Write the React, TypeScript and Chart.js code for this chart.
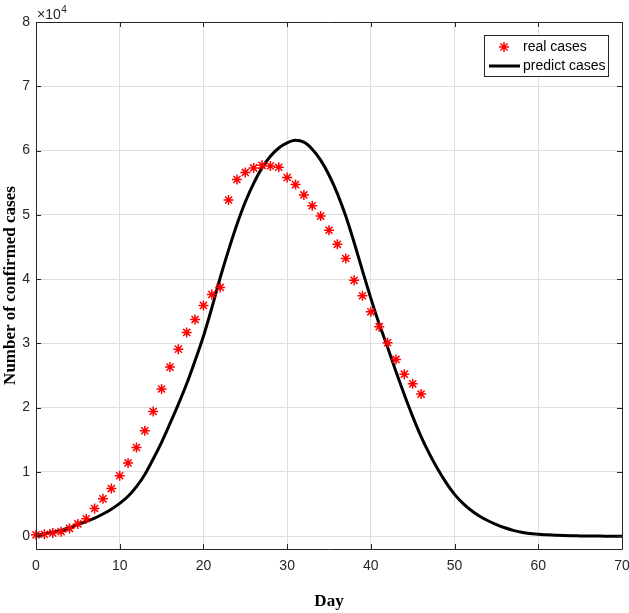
import React, { useEffect, useRef } from "react";
import { Chart, registerables } from "chart.js";

Chart.register(...registerables);

// ---- data ----
const realDays: number[] = Array.from({ length: 47 }, (_, i) => i);
const realCases: number[] = [
  200, 300, 500, 700, 1200, 1900, 2700, 4300, 5800, 7400,
  9400, 11400, 13800, 16400, 19400, 22900, 26300, 29100, 31700, 33700,
  35900, 37600, 38700, 52300, 55500, 56600, 57300, 57700, 57600, 57400,
  55800, 54700, 53100, 51400, 49800, 47600, 45400, 43200, 39800, 37400,
  34900, 32600, 30100, 27500, 25200, 23700, 22100,
];

const predictDays: number[] = Array.from({ length: 71 }, (_, i) => i);
const predictCases: number[] = [
  150, 350, 600, 900, 1300, 1800, 2300, 2800, 3450, 4200,
  5100, 6200, 7700, 9600, 12000, 14600, 17500, 20500, 23700, 27300,
  31100, 35500, 40200, 44500, 48500, 52000, 54900, 57300, 59100, 60400,
  61200, 61600, 61300, 60200, 58500, 56200, 53300, 49800, 45700, 41300,
  37000, 33000, 29400, 25600, 22000, 18600, 15500, 12800, 10400, 8300,
  6500, 5100, 4000, 3100, 2400, 1800, 1300, 900, 600, 400,
  300, 200, 150, 100, 60, 40, 20, 10, 0, 0, 0,
];

const xTicks: number[] = [0, 10, 20, 30, 40, 50, 60, 70];
const yTicks: number[] = [0, 10000, 20000, 30000, 40000, 50000, 60000, 70000, 80000];
const yTickLabels: string[] = ["0", "1", "2", "3", "4", "5", "6", "7", "8"];

const legendLabels: string[] = ["real cases", "predict cases"];

const AXIS = "#262626";
const GRID = "#dedede";
const SANS = "'Liberation Sans', Arial, sans-serif";
const SERIF = "'Liberation Serif', 'Times New Roman', serif";

const framePlugin = {
  id: "matlabFrame",
  afterDatasetsDraw(chart: any) {
    const { ctx, chartArea } = chart;
    const { left, right, top, bottom } = chartArea;
    const xs = chart.scales.x;
    const ys = chart.scales.y;
    ctx.save();
    ctx.strokeStyle = AXIS;
    ctx.lineWidth = 1;
    ctx.beginPath();
    ctx.rect(Math.round(left) + 0.5, Math.round(top) + 0.5, Math.round(right - left), Math.round(bottom - top));
    ctx.stroke();
    const tl = 5;
    ctx.beginPath();
    xTicks.forEach((v) => {
      const px = Math.round(xs.getPixelForValue(v)) + 0.5;
      ctx.moveTo(px, bottom);
      ctx.lineTo(px, bottom - tl);
      ctx.moveTo(px, top);
      ctx.lineTo(px, top + tl);
    });
    yTicks.forEach((v) => {
      const py = Math.round(ys.getPixelForValue(v)) + 0.5;
      ctx.moveTo(left, py);
      ctx.lineTo(left + tl, py);
      ctx.moveTo(right, py);
      ctx.lineTo(right - tl, py);
    });
    ctx.stroke();
    // exponent label
    ctx.fillStyle = AXIS;
    ctx.textBaseline = "alphabetic";
    ctx.textAlign = "left";
    ctx.font = `14px ${SANS}`;
    ctx.fillText("\u00d710", left + 1, top - 3);
    const w = ctx.measureText("\u00d710").width;
    ctx.font = `10px ${SANS}`;
    ctx.fillText("4", left + 1 + w + 0.5, top - 9.5);
    ctx.restore();
  },
  afterDraw(chart: any) {
    const { ctx } = chart;
    ctx.save();
    const bx = 484.5, by = 35.5, bw = 124, bh = 41;
    ctx.fillStyle = "#ffffff";
    ctx.fillRect(bx, by, bw, bh);
    ctx.strokeStyle = AXIS;
    ctx.lineWidth = 1;
    ctx.strokeRect(bx, by, bw, bh);
    // star marker
    const cx = 504, cy = 47, r = 5;
    ctx.strokeStyle = "#ff0000";
    ctx.lineWidth = 1.5;
    ctx.beginPath();
    for (let k = 0; k < 4; k++) {
      const a = (k * Math.PI) / 4;
      ctx.moveTo(cx - r * Math.cos(a), cy - r * Math.sin(a));
      ctx.lineTo(cx + r * Math.cos(a), cy + r * Math.sin(a));
    }
    ctx.stroke();
    // line sample
    ctx.strokeStyle = "#000000";
    ctx.lineWidth = 3;
    ctx.beginPath();
    ctx.moveTo(489, 66);
    ctx.lineTo(520, 66);
    ctx.stroke();
    ctx.fillStyle = "#000000";
    ctx.font = `14px ${SANS}`;
    ctx.textBaseline = "middle";
    ctx.textAlign = "left";
    ctx.fillText(legendLabels[0], 523, 47);
    ctx.fillText(legendLabels[1], 523, 66);
    ctx.restore();
  },
};

export default function App() {
  const ref = useRef<HTMLCanvasElement>(null);
  useEffect(() => {
    const chart = new Chart(ref.current as HTMLCanvasElement, {
      type: "line",
      data: {
        datasets: [
          {
            label: legendLabels[0],
            data: realDays.map((d, i) => ({ x: d, y: realCases[i] })),
            showLine: false,
            pointStyle: "star",
            pointRadius: 5,
            pointBorderWidth: 1.5,
            pointBorderColor: "#ff0000",
            pointBackgroundColor: "#ff0000",
            borderColor: "#ff0000",
            clip: false as any,
          },
          {
            label: legendLabels[1],
            data: predictDays.map((d, i) => ({ x: d, y: predictCases[i] })),
            borderColor: "#000000",
            borderWidth: 3,
            pointRadius: 0,
            cubicInterpolationMode: "monotone",
            fill: false,
          },
        ],
      },
      options: {
        responsive: false,
        animation: false,
        layout: { padding: { left: 0, right: 7, top: 22, bottom: 0 } },
        plugins: { legend: { display: false }, tooltip: { enabled: false } },
        scales: {
          x: {
            type: "linear",
            min: 0,
            max: 70,
            afterBuildTicks: (s: any) => {
              s.ticks = xTicks.map((v) => ({ value: v }));
            },
            afterFit: (s: any) => {
              s.height = 64;
              s.paddingLeft = 0;
              s.paddingRight = 0;
            },
            grid: { color: GRID, lineWidth: 1, drawTicks: false },
            border: { display: false },
            ticks: {
              autoSkip: false,
              maxRotation: 0,
              padding: 9,
              color: AXIS,
              font: { family: SANS, size: 14 },
            },
            title: {
              display: true,
              text: "Day",
              color: "#000000",
              font: { family: SERIF, size: 17, weight: "bold" },
              padding: { top: 0, bottom: 1 },
            },
          },
          y: {
            type: "linear",
            min: -2000,
            max: 80000,
            afterBuildTicks: (s: any) => {
              s.ticks = yTicks.map((v) => ({ value: v }));
            },
            afterFit: (s: any) => {
              s.width = 36;
              s.paddingTop = 0;
              s.paddingBottom = 0;
            },
            grid: { color: GRID, lineWidth: 1, drawTicks: false },
            border: { display: false },
            ticks: {
              autoSkip: false,
              padding: 6,
              color: AXIS,
              font: { family: SANS, size: 14 },
              callback: (v: any) => {
                const idx = yTicks.indexOf(Number(v));
                return idx >= 0 ? yTickLabels[idx] : "";
              },
            },
            title: {
              display: true,
              text: "Number of confirmed cases",
              color: "#000000",
              font: { family: SERIF, size: 17, weight: "bold" },
              padding: { top: 0, bottom: 0 },
            },
          },
        },
      },
      plugins: [framePlugin],
    } as any);
    return () => chart.destroy();
  }, []);
  return (
    <div style={{ position: "absolute", left: 0, top: 0, width: 629, height: 613, background: "#ffffff" }}>
      <canvas ref={ref} width={629} height={613} style={{ display: "block", width: 629, height: 613 }} />
    </div>
  );
}
